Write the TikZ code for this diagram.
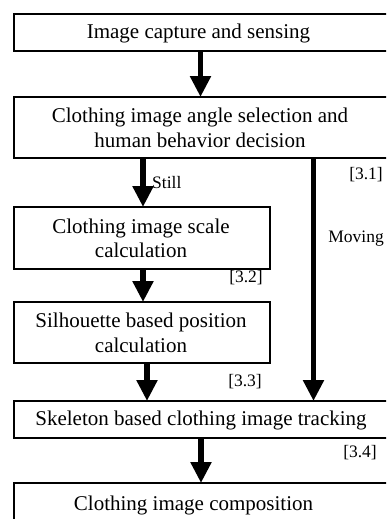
\documentclass[tikz,border=0pt]{standalone}
\usepackage{fontspec}
\setmainfont{Liberation Serif}
\usetikzlibrary{arrows.meta}
\tikzset{
  box/.style={draw=black, line width=1.8pt, inner sep=0pt, outer sep=0pt, rectangle},
  maintext/.style={font=\fontsize{21}{24.5}\selectfont, align=center, inner sep=0pt},
  lbl/.style={font=\fontsize{17.5}{20}\selectfont, inner sep=0pt},
  arr/.style={line width=5.5pt, -{Triangle[width=20pt,length=21pt]}}
}
\begin{document}
\begin{tikzpicture}[x=1pt,y=-1pt]
\clip (0,0) rectangle (386,519);
\fill[white] (0,0) rectangle (386,519);
% boxes
\node[box, minimum width=378pt, minimum height=37pt] (b1) at (203,32.5) {};
\node[box, minimum width=378pt, minimum height=61pt] (b2) at (203,127.5) {};
\node[box, minimum width=256pt, minimum height=62pt] (b3) at (142,238) {};
\node[box, minimum width=256pt, minimum height=61pt] (b4) at (142,332.5) {};
\node[box, minimum width=378pt, minimum height=37pt] (b5) at (203,419.5) {};
\node[box, minimum width=378pt, minimum height=57pt] (b6) at (203,511.5) {};
% texts
\node[maintext] (t1) at (198.5,33) {Image capture and sensing};
\node[maintext] (t2) at (200,128) {Clothing image angle selection and\\human behavior decision};
\node[maintext] (t3) at (141,238.5) {Clothing image scale\\calculation};
\node[maintext] (t4) at (141,333) {Silhouette based position\\calculation};
\node[maintext] (t5) at (201,420) {Skeleton based clothing image tracking};
\node[maintext, anchor=base] (t6) at (193.5,510) {Clothing image composition};
% arrow x positions
\coordinate (x1) at (200.5,0);
\coordinate (x2) at (143,0);
\coordinate (x3) at (143,0);
\coordinate (x4) at (147,0);
\coordinate (x5) at (313.5,0);
\coordinate (x6) at (201,0);
% arrows
\draw[arr] (b1.south -| x1) -- (b2.north -| x1);
\draw[arr] (b2.south -| x2) -- (b3.north -| x2);
\draw[arr] (b3.south -| x3) -- (b4.north -| x3);
\draw[arr] (b4.south -| x4) -- (b5.north -| x4);
\draw[arr] (b2.south -| x5) -- (b5.north -| x5);
\draw[arr] (b5.south -| x6) -- (b6.north -| x6);
% labels
\node[lbl, anchor=base west] (still) at (152,188) {Still};
\node[lbl, anchor=base east] (l31) at (383,179) {[3.1]};
\node[lbl, anchor=base east] (moving) at (384,242) {Moving};
\node[lbl, anchor=base east] (l32) at (263,282) {[3.2]};
\node[lbl, anchor=base east] (l33) at (262,386) {[3.3]};
\node[lbl, anchor=base east] (l34) at (377,457) {[3.4]};
\end{tikzpicture}
\end{document}
